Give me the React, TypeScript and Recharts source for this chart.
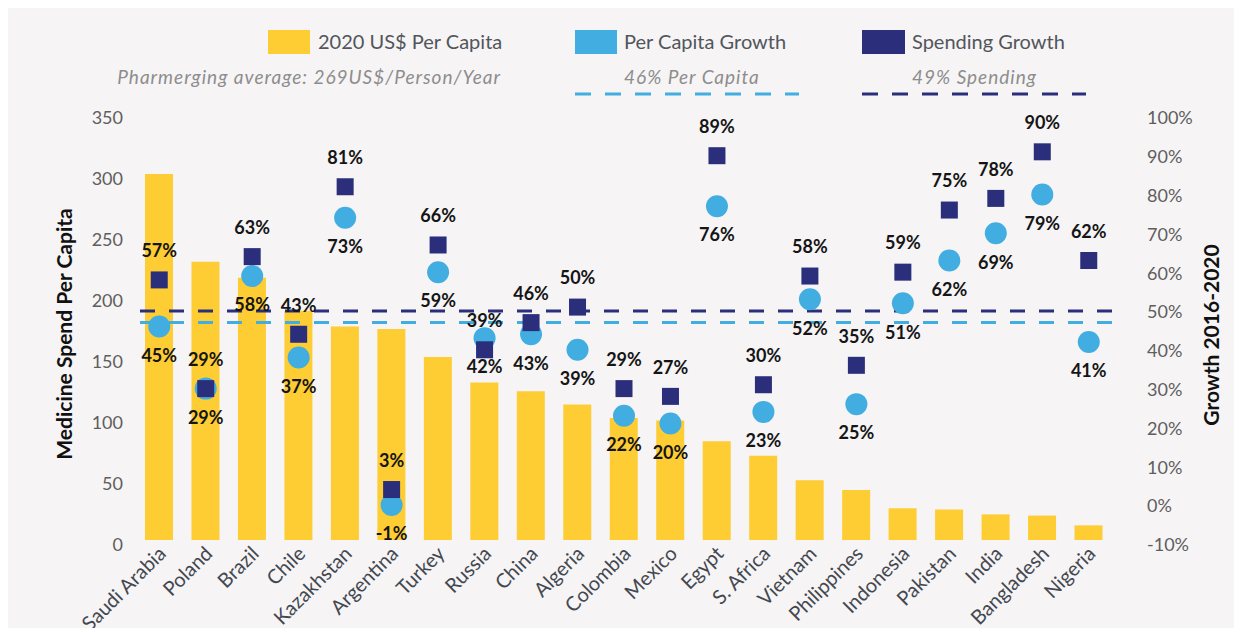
import React from 'react';
import {
  ComposedChart, Bar, Scatter, XAxis, YAxis, ReferenceLine,
} from 'recharts';

const countries = [
  'Saudi Arabia', 'Poland', 'Brazil', 'Chile', 'Kazakhstan', 'Argentina', 'Turkey',
  'Russia', 'China', 'Algeria', 'Colombia', 'Mexico', 'Egypt', 'S. Africa',
  'Vietnam', 'Philippines', 'Indonesia', 'Pakistan', 'India', 'Bangladesh', 'Nigeria',
];
const spendPerCapita = [300, 228, 215, 188, 175, 173, 150, 129, 122, 111, 100, 98, 81, 69, 49, 41, 26, 25, 21, 20, 12];
const perCapitaGrowth = [45, 29, 58, 37, 73, -1, 59, 42, 43, 39, 22, 20, 76, 23, 52, 25, 51, 62, 69, 79, 41];
const spendingGrowth = [57, 29, 63, 43, 81, 3, 66, 39, 46, 50, 29, 27, 89, 30, 58, 35, 59, 75, 78, 90, 62];

const leftTicks = [0, 50, 100, 150, 200, 250, 300, 350];
const rightTicks = [-10, 0, 10, 20, 30, 40, 50, 60, 70, 80, 90, 100];
const avgPerCapitaGrowth = 46;
const avgSpendingGrowth = 49;

const YELLOW = '#fecd34';
const LIGHT = '#41ade1';
const NAVY = '#2b2f7b';
const BG = '#f6f4f5';

const data = countries.map((c, i) => ({
  country: c,
  spend: spendPerCapita[i],
  perCapita: perCapitaGrowth[i],
  spending: spendingGrowth[i],
}));

const labelStyle = { fontSize: 18, fontWeight: 700, fill: '#151515' };

const CircleMark = (props: any) => {
  const { cx, cy, payload } = props;
  return (
    <g>
      <circle cx={cx} cy={cy} r={11} fill={LIGHT} />
      <text x={cx} y={cy + 29} dy="0.35em" textAnchor="middle" {...labelStyle}>
        {payload.perCapita}%
      </text>
    </g>
  );
};

const SquareMark = (props: any) => {
  const { cx, cy, payload } = props;
  return (
    <g>
      <rect x={cx - 8.5} y={cy - 8.5} width={17} height={17} fill={NAVY} />
      <text x={cx} y={cy - 29} dy="0.35em" textAnchor="middle" {...labelStyle}>
        {payload.spending}%
      </text>
    </g>
  );
};

const LeftTick = ({ x, y, payload }: any) => (
  <text x={x} y={y + 5} dy="0.35em" textAnchor="end" fontSize={18} fill="#5e5e5e">
    {payload.value}
  </text>
);

const RightTick = ({ x, y, payload }: any) => (
  <text x={x} y={y + 5} dy="0.35em" textAnchor="start" fontSize={18} fill="#5e5e5e">
    {payload.value}%
  </text>
);

const CountryTick = ({ x, y, payload }: any) => {
  const ax = x + 8;
  const ay = y + 15;
  return (
    <text x={ax} y={ay} textAnchor="end" fontSize={20} fill="#434850"
      transform={`rotate(-45, ${ax}, ${ay})`}>
      {payload.value}
    </text>
  );
};

const legendText: React.CSSProperties = {
  position: 'absolute', fontSize: 20, color: '#51565c', lineHeight: '24px', whiteSpace: 'nowrap',
};
const noteText: React.CSSProperties = {
  position: 'absolute', fontSize: 19, fontStyle: 'italic', color: '#8d8d8d', lineHeight: '22px',
  whiteSpace: 'nowrap', letterSpacing: 1,
};
const titleText: React.CSSProperties = {
  position: 'absolute', transform: 'translate(-50%, -50%) rotate(-90deg)',
  fontSize: 21, fontWeight: 700, color: '#111', whiteSpace: 'nowrap',
};

export default function App() {
  return (
    <div style={{ position: 'relative', width: 1226, height: 620, background: BG, fontFamily: 'Lato, sans-serif', overflow: 'hidden' }}>
      {/* legend */}
      <div style={{ position: 'absolute', left: 260, top: 22, width: 42, height: 24, background: YELLOW }} />
      <div style={{ ...legendText, left: 310, top: 21 }}>2020 US$ Per Capita</div>
      <div style={{ position: 'absolute', left: 567, top: 22, width: 42, height: 24, background: LIGHT }} />
      <div style={{ ...legendText, left: 616, top: 21 }}>Per Capita Growth</div>
      <div style={{ position: 'absolute', left: 854, top: 22, width: 43, height: 24, background: NAVY }} />
      <div style={{ ...legendText, left: 904, top: 21 }}>Spending Growth</div>

      <div style={{ ...noteText, right: 1226 - 493, top: 58 }}>Pharmerging average: 269US$/Person/Year</div>
      <div style={{ ...noteText, left: 616, top: 58 }}>{avgPerCapitaGrowth}% Per Capita</div>
      <div style={{ ...noteText, left: 904, top: 58 }}>{avgSpendingGrowth}% Spending</div>

      <svg style={{ position: 'absolute', left: 0, top: 0 }} width={1226} height={100}>
        <line x1={567} x2={791} y1={86} y2={86} stroke={LIGHT} strokeWidth={3} strokeDasharray="16 14" />
        <line x1={854} x2={1078} y1={86} y2={86} stroke={NAVY} strokeWidth={3} strokeDasharray="16 14" />
      </svg>

      {/* axis titles */}
      <div style={{ ...titleText, left: 55, top: 326 }}>Medicine Spend Per Capita</div>
      <div style={{ ...titleText, left: 1202, top: 327 }}>Growth 2016-2020</div>

      <div style={{ position: 'absolute', left: 0, top: 0 }}>
        <ComposedChart width={1226} height={620} data={data}
          margin={{ top: 105, right: 52, bottom: 8, left: 58 }}>
          <XAxis dataKey="country" axisLine={false} tickLine={false} tickSize={0} tickMargin={0}
            height={80} interval={0} tick={<CountryTick />} />
          <YAxis yAxisId="left" domain={[0, 350]} ticks={leftTicks} axisLine={false} tickLine={false}
            tickSize={0} tickMargin={13} width={70} tick={<LeftTick />} />
          <YAxis yAxisId="right" orientation="right" domain={[-10, 100]} ticks={rightTicks}
            axisLine={false} tickLine={false} tickSize={0} tickMargin={35} width={70} tick={<RightTick />} />
          <Bar yAxisId="left" dataKey="spend" fill={YELLOW} barSize={28} isAnimationActive={false} />
          <ReferenceLine yAxisId="right" y={avgSpendingGrowth} stroke={NAVY} strokeWidth={3} strokeDasharray="15 14" />
          <ReferenceLine yAxisId="right" y={avgPerCapitaGrowth} stroke={LIGHT} strokeWidth={3} strokeDasharray="15 14" />
          <Scatter yAxisId="right" dataKey="perCapita" shape={<CircleMark />} isAnimationActive={false} />
          <Scatter yAxisId="right" dataKey="spending" shape={<SquareMark />} isAnimationActive={false} />
        </ComposedChart>
      </div>
    </div>
  );
}
